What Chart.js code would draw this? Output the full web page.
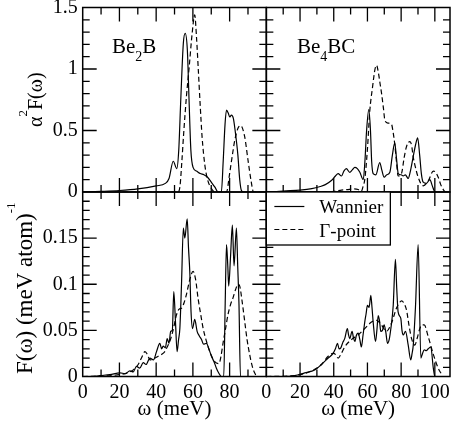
<!DOCTYPE html>
<html>
<head>
<meta charset="utf-8">
<script src="https://cdn.jsdelivr.net/npm/chart.js@4.4.1/dist/chart.umd.min.js"></script>
<style>
  html, body { margin: 0; padding: 0; background: #fff; }
  canvas { display: block; }
</style>
</head>
<body>
<canvas id="chart" width="452" height="431"></canvas>
<script>
// tick labels
const omegaTicksLeft = [0, 20, 40, 60, 80];
const omegaTicksRight = [0, 20, 40, 60, 80, 100];
const a2fTicks = [0, 0.5, 1, 1.5];
const dosTicks = [0, 0.05, 0.1, 0.15];

const seriesNames = ['Wannier', '\u0393-point'];

// Be2B, alpha^2 F(omega)
const be2bA2fOmegaWan = [0, 10, 20, 30, 40, 45, 47, 49.3, 51.2, 52.3, 53.4, 54.8, 55.8, 57, 57.9, 58.9, 60.1, 62, 64, 66, 68, 70, 72, 73.7, 75.5, 76.5, 77.5, 78.3, 79.3, 80, 81, 82, 83, 84.5, 85.5, 86.5, 88, 100];
const be2bA2fWan = [0, 0.005, 0.012, 0.025, 0.05, 0.07, 0.11, 0.25, 0.19, 0.34, 0.75, 1.21, 1.29, 1.15, 0.75, 0.34, 0.2, 0.17, 0.15, 0.14, 0.12, 0.08, 0.04, 0, 0, 0.25, 0.55, 0.665, 0.64, 0.61, 0.625, 0.6, 0.5, 0.3, 0.1, 0.01, 0, 0];
const be2bA2fOmegaGam = [0, 52, 53, 54, 55, 56.5, 58, 59.6, 61, 62, 63, 64, 65, 66.5, 68, 70, 72, 78.3, 80, 81.5, 82.8, 84.6, 86, 88.2, 90, 91.8, 93, 100];
const be2bA2fGam = [0, 0, 0.05, 0.25, 0.48, 0.78, 1.02, 1.29, 1.44, 1.25, 0.98, 0.7, 0.45, 0.22, 0.1, 0.03, 0, 0, 0.15, 0.3, 0.42, 0.52, 0.54, 0.45, 0.26, 0.08, 0, 0];

// Be4BC, alpha^2 F(omega)
const be4bcA2fOmegaWan = [0, 5, 10, 20, 27, 32, 35, 38.8, 41, 42.6, 44.6, 46, 47.5, 49.5, 51, 52.5, 54, 55.5, 57.5, 58.5, 59.5, 60.8, 61.8, 62.5, 63.4, 65, 67.3, 68.5, 69.9, 71.5, 73.3, 74.8, 76.2, 77.2, 78.3, 80, 81.2, 82.5, 84.2, 85.5, 87.2, 88.5, 89.8, 91, 92, 93.1, 95, 97, 98.5, 99.6, 101, 109];
const be4bcA2fWan = [0, 0.003, 0.008, 0.015, 0.027, 0.045, 0.06, 0.095, 0.13, 0.15, 0.13, 0.17, 0.19, 0.16, 0.18, 0.2, 0.19, 0.16, 0.1, 0.25, 0.5, 0.67, 0.5, 0.25, 0.15, 0.14, 0.24, 0.18, 0.12, 0.14, 0.16, 0.3, 0.4, 0.28, 0.15, 0.14, 0.13, 0.14, 0.11, 0.17, 0.29, 0.38, 0.44, 0.3, 0.15, 0.08, 0.07, 0.1, 0.05, 0.01, 0, 0];
const be4bcA2fOmegaGam = [0, 30, 40, 44.6, 48, 52, 54.5, 56.4, 57.5, 58.4, 60, 61.4, 63, 64.5, 65.4, 66.5, 67.5, 68.4, 69.5, 70.4, 72.3, 74.3, 75.3, 76.2, 77.2, 78.2, 80.2, 81.8, 83.2, 85.2, 86.2, 87.1, 88.5, 90.1, 93.1, 96.1, 99.1, 100.5, 102, 103.5, 105, 106.5, 109];
const be4bcA2fGam = [0, 0, 0.005, 0.015, 0.02, 0.025, 0.02, 0.005, 0.05, 0.1, 0.35, 0.66, 0.85, 1.0, 1.03, 0.97, 0.88, 0.8, 0.68, 0.58, 0.56, 0.55, 0.48, 0.39, 0.25, 0.13, 0.15, 0.28, 0.37, 0.41, 0.38, 0.29, 0.2, 0.12, 0.05, 0.09, 0.17, 0.16, 0.12, 0.06, 0.02, 0, 0];

// Be2B, phonon DOS F(omega)
const be2bDosOmegaWan = [0, 5, 9.4, 14.8, 20.3, 23, 25.7, 27.5, 29.3, 31, 33, 34.5, 36.6, 38.5, 40.2, 42, 43, 43.8, 45, 46, 47, 47.9, 48.8, 49.6, 50.5, 51.4, 52.2, 52.9, 53.8, 54.8, 55.6, 56.9, 57.6, 58.3, 59, 59.8, 61, 62.3, 63.5, 64.7, 65.8, 67.4, 68.7, 70.1, 71.5, 72.8, 74, 75.5, 76.8, 77.6, 78.3, 79, 79.5, 80.5, 81.5, 82.4, 83.7, 84.4, 85.1, 85.9, 100];
const be2bDosWan = [0, 0, 0.001, 0.002, 0.004, 0.003, 0.006, 0.005, 0.011, 0.009, 0.015, 0.013, 0.02, 0.018, 0.027, 0.036, 0.03, 0.033, 0.031, 0.041, 0.036, 0.049, 0.05, 0.092, 0.06, 0.027, 0.04, 0.052, 0.1, 0.161, 0.15, 0.171, 0.14, 0.114, 0.07, 0.052, 0.062, 0.049, 0.044, 0.04, 0.035, 0.036, 0.03, 0.022, 0.016, 0.009, 0.004, 0, 0, 0.08, 0.143, 0.12, 0.098, 0.13, 0.164, 0.12, 0.161, 0.12, 0.078, 0, 0];
const be2bDosOmegaGam = [0, 20, 25.7, 28, 30.2, 32, 33.9, 35.2, 36.6, 38.5, 41.1, 43, 44.7, 46, 47.4, 49.2, 51.1, 52.5, 53.8, 55.2, 56.5, 58.3, 60.1, 61.5, 62.8, 64.2, 65.6, 67.4, 69.2, 71.9, 74.2, 75.3, 76.4, 77.8, 79.1, 80.5, 81.8, 83.2, 84.6, 85.5, 86.9, 88.2, 89.5, 90.9, 92.2, 93.6, 95, 100];
const be2bDosGam = [0, 0.002, 0.005, 0.008, 0.013, 0.02, 0.027, 0.024, 0.018, 0.019, 0.022, 0.024, 0.027, 0.032, 0.038, 0.05, 0.067, 0.073, 0.074, 0.08, 0.089, 0.105, 0.114, 0.105, 0.085, 0.068, 0.052, 0.038, 0.027, 0.016, 0.014, 0.022, 0.036, 0.052, 0.067, 0.078, 0.085, 0.094, 0.1, 0.098, 0.08, 0.06, 0.04, 0.024, 0.012, 0.004, 0, 0];

// Be4BC, phonon DOS F(omega)
const be4bcDosOmegaWan = [0, 10.9, 16.8, 22.8, 28.7, 32.7, 36.7, 39.6, 41, 42.2, 43.2, 44.2, 45.4, 46.5, 48.1, 48.8, 49.5, 50.9, 51.7, 52.5, 53.5, 54.5, 55.5, 56.4, 57.4, 58.4, 59.2, 60, 61, 62, 62.7, 63.4, 64.8, 65.6, 66.4, 67.2, 67.9, 68.9, 69.9, 70.9, 71.9, 72.9, 73.9, 75.3, 76.6, 77.4, 78.2, 79.8, 80.5, 81.2, 82.6, 84.2, 85.7, 86.5, 87.2, 88.5, 90.1, 91.7, 92.7, 93.7, 94.9, 96.1, 97.6, 99.1, 100, 109];
const be4bcDosWan = [0, 0, 0.001, 0.004, 0.007, 0.013, 0.02, 0.025, 0.03, 0.036, 0.03, 0.031, 0.037, 0.041, 0.052, 0.045, 0.041, 0.049, 0.042, 0.038, 0.045, 0.047, 0.04, 0.032, 0.045, 0.059, 0.068, 0.077, 0.075, 0.088, 0.075, 0.059, 0.038, 0.05, 0.066, 0.06, 0.049, 0.05, 0.056, 0.048, 0.036, 0.04, 0.052, 0.077, 0.127, 0.095, 0.07, 0.063, 0.05, 0.045, 0.049, 0.034, 0.018, 0.025, 0.034, 0.075, 0.143, 0.02, 0.025, 0.029, 0.028, 0.03, 0.032, 0.009, 0, 0];
const be4bcDosOmegaGam = [0, 16.8, 26.7, 32.7, 36.7, 39.6, 41, 42.6, 44.5, 46.5, 50.5, 54.5, 58.4, 62.4, 65.4, 68.3, 71.3, 74.3, 77.2, 79, 80.2, 81.5, 83.2, 84.7, 86.2, 88.1, 89.6, 91.1, 92.5, 93.7, 96.1, 99.1, 102, 103.5, 105, 109];
const be4bcDosGam = [0, 0.001, 0.006, 0.013, 0.022, 0.025, 0.024, 0.02, 0.025, 0.032, 0.04, 0.045, 0.052, 0.059, 0.061, 0.056, 0.049, 0.058, 0.074, 0.08, 0.082, 0.08, 0.072, 0.055, 0.041, 0.034, 0.042, 0.052, 0.056, 0.056, 0.043, 0.024, 0.009, 0.004, 0, 0];

const SERIF = '"Liberation Serif", "Times New Roman", serif';

function pts(xs, ys) {
  return xs.map((x, i) => ({ x, y: ys[i] }));
}

function line(xs, ys, xAxisID, yAxisID, dashed) {
  return {
    data: pts(xs, ys),
    xAxisID,
    yAxisID,
    borderColor: '#000',
    borderWidth: 1.2,
    borderDash: dashed ? [5, 3] : [],
    pointRadius: 0,
    fill: false,
    cubicInterpolationMode: 'monotone',
  };
}

function fixedTicks(values) {
  return (scale) => { scale.ticks = values.map((v) => ({ value: v })); };
}

function xAxis(max, ticks, weight) {
  return {
    type: 'linear',
    position: 'bottom',
    stack: 'omega',
    stackWeight: 1,
    weight,
    min: 0,
    max,
    afterBuildTicks: fixedTicks(ticks),
    afterFit: (s) => {
      s.height = 54.5;
      s.paddingLeft = 0;
      s.paddingRight = 0;
    },
    grid: { display: false, drawTicks: false },
    border: { display: false },
    ticks: {
      autoSkip: false,
      maxRotation: 0,
      padding: 4,
      color: '#000',
      font: { family: SERIF, size: 20 },
      callback: (v) => String(v),
    },
  };
}

function yAxis(max, ticks, weight) {
  return {
    type: 'linear',
    position: 'left',
    stack: 'f',
    stackWeight: 1,
    weight,
    min: 0,
    max,
    afterBuildTicks: fixedTicks(ticks),
    afterFit: (s) => {
      s.width = 82.7;
      s.paddingTop = 0;
      s.paddingBottom = 0;
    },
    grid: { display: false, drawTicks: false },
    border: { display: false },
    ticks: {
      autoSkip: false,
      padding: 5,
      color: '#000',
      font: { family: SERIF, size: 20 },
      callback: (v) => String(v),
    },
  };
}

// text pieces drawn one after another, with sub/superscripts
function drawRuns(ctx, runs, x, y, center) {
  const widths = runs.map((r) => {
    ctx.font = `${r.size}px ${SERIF}`;
    return ctx.measureText(r.t).width;
  });
  let cx = center ? x - widths.reduce((a, b) => a + b, 0) / 2 : x;
  runs.forEach((r, i) => {
    ctx.font = `${r.size}px ${SERIF}`;
    ctx.fillText(r.t, cx, y + (r.dy || 0));
    cx += widths[i];
  });
}

const framePlugin = {
  id: 'frame',
  afterDraw(chart) {
    const ctx = chart.ctx;
    const s = chart.scales;
    const panels = [
      [s.xL, s.yT, 0.1, 0.5],
      [s.xR, s.yT, 0.1, 0.5],
      [s.xL, s.yB, 0.01, 0.05],
      [s.xR, s.yB, 0.01, 0.05],
    ];
    ctx.save();
    ctx.strokeStyle = '#000';
    ctx.setLineDash([]);
    ctx.lineWidth = 1.3;
    panels.forEach(([xs, ys, minor, major]) => {
      const l = xs.left, r = xs.right, t = ys.top, b = ys.bottom;
      ctx.beginPath();
      for (let v = 10; v < xs.max; v += 10) {
        const px = xs.getPixelForValue(v);
        const len = v % 20 === 0 ? 14 : 7;
        ctx.moveTo(px, b); ctx.lineTo(px, b - len);
        ctx.moveTo(px, t); ctx.lineTo(px, t + len);
      }
      const n = Math.round(ys.max / minor);
      const every = Math.round(major / minor);
      for (let k = 1; k < n; k++) {
        const py = ys.getPixelForValue(k * minor);
        const len = k % every === 0 ? 14 : 7;
        ctx.moveTo(l, py); ctx.lineTo(l + len, py);
        ctx.moveTo(r, py); ctx.lineTo(r - len, py);
      }
      ctx.stroke();
      ctx.lineWidth = 1.5;
      ctx.strokeRect(l, t, r - l, b - t);
      ctx.lineWidth = 1.3;
    });

    ctx.fillStyle = '#000';
    ctx.textBaseline = 'alphabetic';
    ctx.textAlign = 'left';

    // panel labels
    drawRuns(ctx, [{ t: 'Be', size: 21 }, { t: '2', size: 14, dy: 8 }, { t: 'B', size: 21 }], 112, 53, false);
    drawRuns(ctx, [{ t: 'Be', size: 21 }, { t: '4', size: 14, dy: 8 }, { t: 'BC', size: 21 }], 297, 53, false);

    // x titles
    const xt = [{ t: '\u03c9 (meV)', size: 21 }];
    drawRuns(ctx, xt, (s.xL.left + s.xL.right) / 2, 415, true);
    drawRuns(ctx, xt, (s.xR.left + s.xR.right) / 2, 415, true);

    // y titles
    ctx.save();
    ctx.translate(42, (s.yT.top + s.yT.bottom) / 2);
    ctx.rotate(-Math.PI / 2);
    drawRuns(ctx, [{ t: '\u03b1', size: 20 }, { t: '2', size: 13, dy: -15 }, { t: 'F(\u03c9)', size: 20 }], 0, 0, true);
    ctx.restore();
    ctx.save();
    ctx.translate(31.5, (s.yB.top + s.yB.bottom) / 2 + 4);
    ctx.rotate(-Math.PI / 2);
    drawRuns(ctx, [{ t: 'F(\u03c9) (meV atom)', size: 23 }, { t: '-1', size: 13, dy: -17 }], 0, 0, true);
    ctx.restore();

    // legend
    const lx = s.xR.left, ly = s.yB.top;
    ctx.fillStyle = '#fff';
    ctx.fillRect(lx, ly, 124, 53);
    ctx.strokeRect(lx, ly, 124, 53);
    ctx.fillStyle = '#000';
    ctx.lineWidth = 1.2;
    ctx.beginPath();
    ctx.moveTo(lx + 8, ly + 14.5); ctx.lineTo(lx + 38, ly + 14.5);
    ctx.stroke();
    ctx.setLineDash([5, 3]);
    ctx.beginPath();
    ctx.moveTo(lx + 8, ly + 37.5); ctx.lineTo(lx + 38, ly + 37.5);
    ctx.stroke();
    ctx.setLineDash([]);
    ctx.font = `19px ${SERIF}`;
    ctx.fillText(seriesNames[0], lx + 53, ly + 21);
    ctx.fillText(seriesNames[1], lx + 53, ly + 45);
    ctx.restore();
  },
};

new Chart(document.getElementById('chart'), {
  type: 'line',
  data: {
    datasets: [
      line(be2bA2fOmegaWan, be2bA2fWan, 'xL', 'yT', false),
      line(be2bA2fOmegaGam, be2bA2fGam, 'xL', 'yT', true),
      line(be4bcA2fOmegaWan, be4bcA2fWan, 'xR', 'yT', false),
      line(be4bcA2fOmegaGam, be4bcA2fGam, 'xR', 'yT', true),
      line(be2bDosOmegaWan, be2bDosWan, 'xL', 'yB', false),
      line(be2bDosOmegaGam, be2bDosGam, 'xL', 'yB', true),
      line(be4bcDosOmegaWan, be4bcDosWan, 'xR', 'yB', false),
      line(be4bcDosOmegaGam, be4bcDosGam, 'xR', 'yB', true),
    ],
  },
  options: {
    responsive: false,
    animation: false,
    devicePixelRatio: 1,
    layout: { padding: { left: 0, right: 2, top: 7.5, bottom: 0 } },
    plugins: { legend: { display: false }, tooltip: { enabled: false } },
    scales: {
      xL: xAxis(100, omegaTicksLeft, 1),
      xR: xAxis(109, omegaTicksRight, 2),
      yT: yAxis(1.5, a2fTicks, 2),
      yB: yAxis(0.2, dosTicks, 1),
    },
  },
  plugins: [framePlugin],
});
</script>
</body>
</html>
